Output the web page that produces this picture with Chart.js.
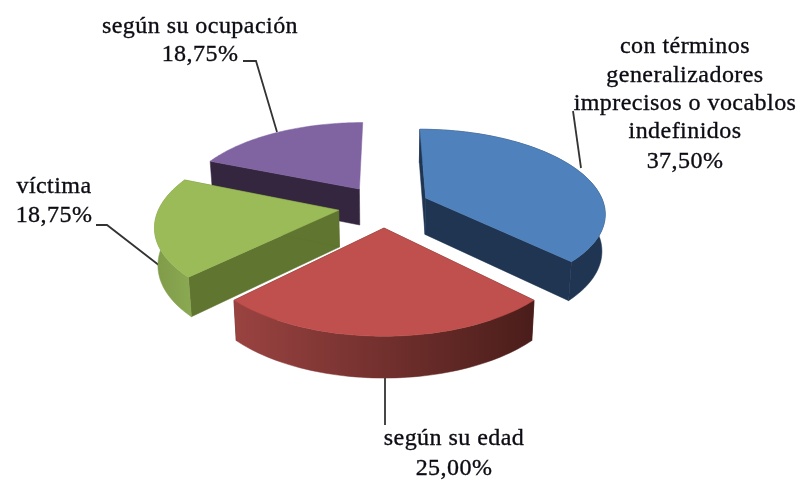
<!DOCTYPE html>
<html>
<head>
<meta charset="utf-8">
<style>html,body{margin:0;padding:0;background:#fff}#w{width:804px;height:487px}</style>
<script src="https://cdn.jsdelivr.net/npm/chart.js@4"></script>
</head>
<body>
<div id="w"><canvas id="c" width="804" height="487"></canvas></div>
<script>
const categories = ["con términos generalizadores imprecisos o vocablos indefinidos", "según su edad", "víctima", "según su ocupación"];
const values = [37.5, 25, 18.75, 18.75];
const topColors = ["#4f81bd", "#c0504d", "#9bbb59", "#8064a2"];
const wallColors = ["#1f3552", "#4e1f1c", "#5f7530", "#35263f"];
const outerLeft = ["#1f3552", "#9a4341", "#7f9b49", "#35263f"];
const outerRight = ["#1f3552", "#4a1d1a", "#8aa751", "#35263f"];
const backWalls = [true, true, true, false];
const labelLines = [
  ["con términos", "generalizadores", "imprecisos o vocablos", "indefinidos"],
  ["según su edad"], ["víctima"], ["según su ocupación"]
];
const labelCenters = [[685, [53, 82, 110, 138, 168]], [454, [445, 475]], [54, [193, 222]], [200, [33, 61]]];
const leaders = [
  [[573, 111], [581, 168]],
  [[385, 378], [385, 425]],
  [[96, 225], [107, 225], [160, 266]],
  [[243, 61], [256, 61], [277, 132]]
];
const drawOrder = [3, 0, 2, 1];

// perspective camera constants, in pie-radius units
const CAM = {dist: 6.138, kx: 1098, ky: 3106, y0: 506, xShrink: 0.985, depth: 36, depthSlope: 0.04, depthRef: 190};

const pie3d = {
  id: 'pie3d',
  beforeDatasetsDraw(chart) {
    const ctx = chart.ctx;
    const arcs = chart.getDatasetMeta(0).data;
    const top = (a, ex, ey, r, th) => {
      const u = ex + r * Math.cos(th), v = ey + r * Math.sin(th);
      const w = CAM.dist - v;
      return [a.x + CAM.kx * u / w, a.y - CAM.y0 + CAM.ky / w];
    };
    const base = (a, p) => [a.x + CAM.xShrink * (p[0] - a.x),
      p[1] + CAM.depth + CAM.depthSlope * (p[1] - CAM.depthRef)];
    const poly = (pts, fill) => {
      ctx.beginPath();
      pts.forEach((p, i) => i ? ctx.lineTo(p[0], p[1]) : ctx.moveTo(p[0], p[1]));
      ctx.closePath();
      ctx.fillStyle = fill;
      ctx.fill();
      ctx.strokeStyle = fill;
      ctx.lineWidth = 0.5;
      ctx.stroke();
    };
    ctx.save();
    ctx.filter = 'blur(0.5px)';
    // leader lines
    ctx.strokeStyle = '#333333';
    ctx.lineWidth = 1.8;
    leaders.forEach(l => {
      ctx.beginPath();
      l.forEach((p, i) => i ? ctx.lineTo(p[0], p[1]) : ctx.moveTo(p[0], p[1]));
      ctx.stroke();
    });
    drawOrder.forEach(i => {
      const a = arcs[i];
      const mid = (a.startAngle + a.endAngle) / 2;
      const e = a.options.offset / a.outerRadius;
      const ex = e * Math.cos(mid), ey = e * Math.sin(mid);
      const rim = [];
      const n = 60;
      for (let k = 0; k <= n; k++) {
        rim.push(top(a, ex, ey, 1, a.startAngle + (a.endAngle - a.startAngle) * k / n));
      }
      const apex = top(a, ex, ey, 0, 0);
      const rimB = rim.map(p => base(a, p));
      const apexB = base(a, apex);
      poly([apex, rim[0], rimB[0], apexB], wallColors[i]);
      if (backWalls[i]) {
        poly([apex, rim[n], rimB[n], apexB], wallColors[i]);
        const xs = rim.map(p => p[0]);
        const g = ctx.createLinearGradient(Math.min(...xs), 0, Math.max(...xs), 0);
        g.addColorStop(0, outerLeft[i]);
        g.addColorStop(1, outerRight[i]);
        poly(rim.concat(rimB.slice().reverse()), g);
      }
      poly([apex].concat(rim), a.options.backgroundColor);
    });
    // labels
    ctx.fillStyle = '#0c0c14';
    ctx.strokeStyle = '#0c0c14';
    ctx.lineWidth = 0.35;
    ctx.font = '24px "Liberation Serif"';
    ctx.textAlign = 'center';
    ctx.textBaseline = 'alphabetic';
    if ('letterSpacing' in ctx) ctx.letterSpacing = '0.45px';
    labelLines.forEach((ls, i) => {
      const pct = values[i].toFixed(2).replace('.', ',') + '%';
      const [cx, ys] = labelCenters[i];
      ls.concat([pct]).forEach((t, j) => {
        ctx.fillText(t, cx, ys[j]);
        ctx.strokeText(t, cx, ys[j]);
      });
    });
    ctx.restore();
    return false;
  }
};

new Chart(document.getElementById('c'), {
  type: 'pie',
  data: {
    labels: categories,
    datasets: [{data: values, backgroundColor: topColors, borderWidth: 0, offset: 51.2}]
  },
  options: {
    responsive: false,
    animation: false,
    radius: 200,
    layout: {padding: {right: 36, bottom: 75}},
    plugins: {legend: {display: false}, tooltip: {enabled: false}}
  },
  plugins: [pie3d]
});
</script>
</body>
</html>
